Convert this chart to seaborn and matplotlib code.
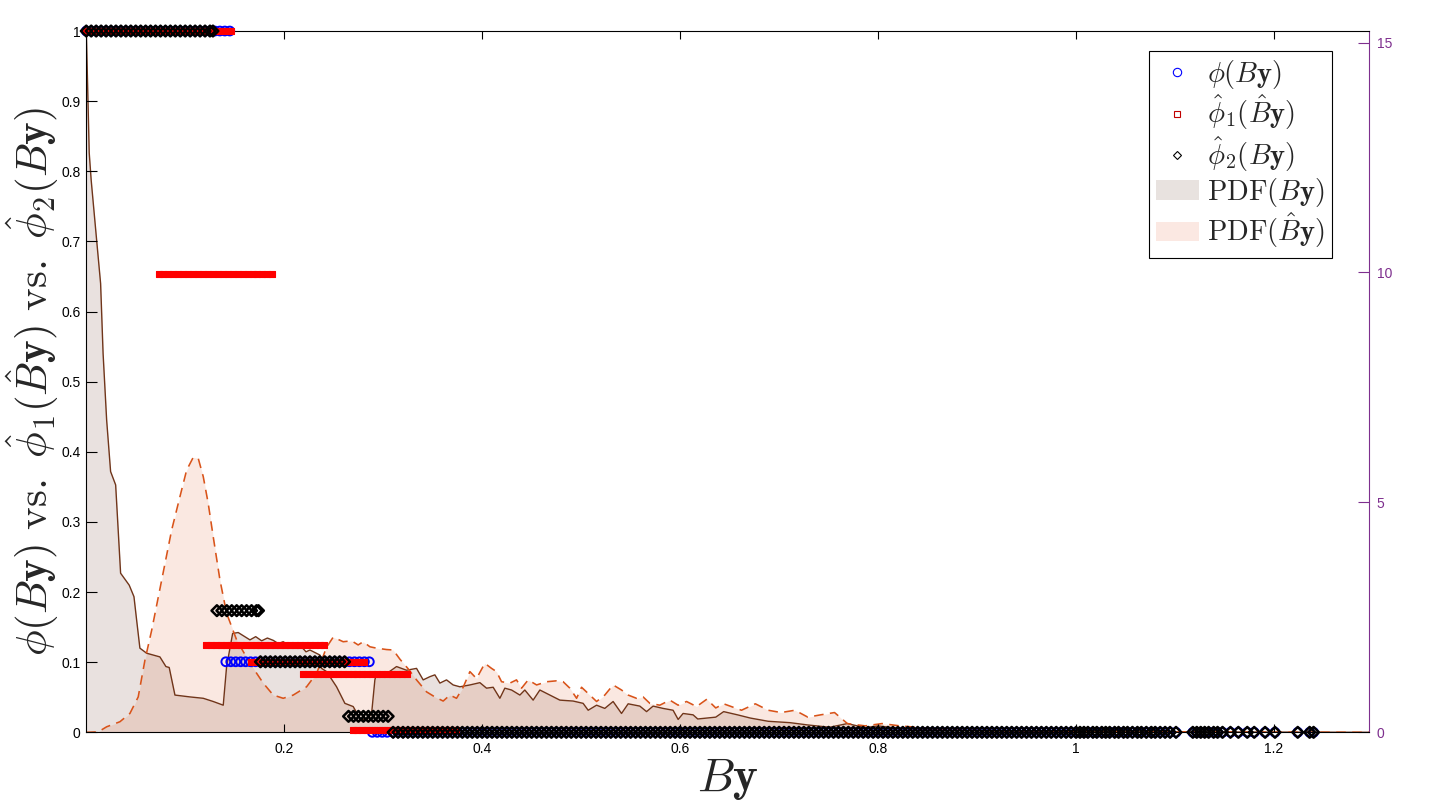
import numpy as np
import pandas as pd
import matplotlib
matplotlib.use("Agg")
import matplotlib.pyplot as plt
import seaborn as sns
from matplotlib.lines import Line2D
from matplotlib.patches import Patch

# PDF curves (right axis), (By, density) pairs
pdf_by_pts = [
    (0.000, 15.3), (0.001, 14.4), (0.003, 12.6), (0.005, 12.0), (0.0105, 10.7),
    (0.0145, 9.76), (0.017, 8.24), (0.0206, 6.79), (0.0246, 5.67), (0.0297, 5.38),
    (0.0347, 3.46), (0.0434, 3.20), (0.0482, 2.95), (0.0509, 2.44), (0.0542, 1.83),
    (0.061, 1.72), (0.0744, 1.64), (0.0805, 1.43), (0.0838, 1.41), (0.0896, 0.81),
    (0.1047, 0.77), (0.1182, 0.74), (0.1283, 0.67), (0.1384, 0.59), (0.1418, 1.43),
    (0.1479, 2.15), (0.1535, 2.17), (0.1654, 2.01), (0.1712, 2.08), (0.1772, 1.99),
    (0.183, 2.05), (0.1889, 2.00), (0.194, 1.93), (0.199, 1.97), (0.204, 1.90),
    (0.2091, 1.92), (0.2176, 1.86), (0.222, 1.75), (0.226, 1.79), (0.2361, 1.68),
    (0.2378, 1.39), (0.2428, 1.32), (0.2529, 0.99), (0.2613, 0.63), (0.2697, 0.56),
    (0.2765, 0.30), (0.2832, 0.27), (0.2883, 0.41), (0.2916, 1.14), (0.2933, 1.28),
    (0.305, 1.30), (0.3135, 1.43), (0.3236, 1.35), (0.3337, 1.39), (0.3404, 1.14),
    (0.3472, 1.21), (0.3522, 1.25), (0.3573, 1.07), (0.364, 1.14), (0.3707, 1.03),
    (0.3775, 0.99), (0.3876, 1.03), (0.3977, 1.08), (0.4044, 0.96), (0.4111, 0.98),
    (0.4179, 0.74), (0.4229, 0.96), (0.4297, 0.92), (0.4381, 0.81), (0.4431, 0.92),
    (0.4515, 0.70), (0.4583, 0.92), (0.4684, 0.81), (0.4785, 0.70), (0.4919, 0.68),
    (0.502, 0.63), (0.5071, 0.48), (0.5156, 0.59), (0.5239, 0.52), (0.5323, 0.67),
    (0.5408, 0.41), (0.5475, 0.62), (0.5593, 0.57), (0.5661, 0.45), (0.5727, 0.57),
    (0.5828, 0.52), (0.5929, 0.48), (0.598, 0.28), (0.603, 0.41), (0.6131, 0.38),
    (0.6178, 0.29), (0.636, 0.33), (0.644, 0.45), (0.658, 0.38), (0.671, 0.31),
    (0.689, 0.24), (0.711, 0.21), (0.729, 0.16), (0.751, 0.11), (0.769, 0.19),
    (0.787, 0.10), (0.800, 0.14), (0.822, 0.08), (0.867, 0.05), (0.911, 0.03),
    (0.960, 0.02), (1.000, 0.02), (1.100, 0.01), (1.200, 0.005), (1.296, 0.0),
]

pdf_bhat_pts = [
    (0.000, 0.0), (0.0121, 0.01), (0.0206, 0.12), (0.034, 0.23), (0.0441, 0.41),
    (0.0525, 0.77), (0.0593, 1.57), (0.0661, 2.22), (0.0762, 3.31), (0.0863, 4.40),
    (0.0946, 5.12), (0.1014, 5.70), (0.1081, 5.98), (0.1131, 5.96), (0.1182, 5.56),
    (0.1232, 4.98), (0.1283, 4.25), (0.1351, 3.31), (0.1418, 2.59), (0.1519, 2.01),
    (0.1654, 1.50), (0.1788, 1.07), (0.1889, 0.81), (0.199, 0.74), (0.2091, 0.81),
    (0.2226, 0.99), (0.2327, 1.28), (0.2428, 1.85), (0.2495, 2.07), (0.2596, 1.97),
    (0.2681, 1.99), (0.2747, 1.90), (0.2798, 1.97), (0.2866, 1.86), (0.2933, 1.83),
    (0.3034, 1.80), (0.3101, 1.79), (0.3169, 1.59), (0.3253, 1.38), (0.3337, 1.14),
    (0.3438, 0.88), (0.3522, 0.77), (0.3606, 0.68), (0.3674, 0.81), (0.3741, 0.74),
    (0.3808, 0.98), (0.3876, 1.32), (0.3943, 1.17), (0.4027, 1.50), (0.4095, 1.39),
    (0.4145, 1.32), (0.4196, 1.10), (0.428, 1.07), (0.4347, 1.14), (0.4398, 0.96),
    (0.4465, 1.14), (0.455, 1.03), (0.4651, 1.10), (0.4752, 1.12), (0.4818, 1.10),
    (0.4886, 0.96), (0.4954, 0.74), (0.5004, 0.98), (0.5088, 0.81), (0.5156, 0.67),
    (0.5239, 0.81), (0.5323, 1.03), (0.5408, 0.92), (0.5475, 0.81), (0.5559, 0.74),
    (0.5626, 0.77), (0.5694, 0.63), (0.5795, 0.59), (0.5896, 0.70), (0.598, 0.59),
    (0.6065, 0.67), (0.6166, 0.56), (0.627, 0.72), (0.636, 0.53), (0.644, 0.62),
    (0.662, 0.48), (0.676, 0.62), (0.689, 0.48), (0.702, 0.43), (0.716, 0.48),
    (0.729, 0.33), (0.742, 0.38), (0.756, 0.43), (0.769, 0.19), (0.787, 0.14),
    (0.804, 0.19), (0.822, 0.14), (0.844, 0.10), (0.867, 0.07), (0.911, 0.04),
    (0.956, 0.03), (1.000, 0.02), (1.100, 0.01), (1.296, 0.0),
]

# By samples shared by phi and phi2 at level 0
by_low = [
    0.310, 0.315, 0.320, 0.325, 0.330, 0.335, 0.340, 0.345, 0.350, 0.355,
    0.360, 0.365, 0.370, 0.375, 0.380, 0.385, 0.390, 0.395, 0.400, 0.405,
    0.410, 0.415, 0.420, 0.425, 0.430, 0.435, 0.440, 0.445, 0.450, 0.455,
    0.460, 0.465, 0.470, 0.475, 0.480, 0.485, 0.490, 0.495, 0.500, 0.505,
    0.510, 0.515, 0.520, 0.525, 0.530, 0.535, 0.540, 0.545, 0.550, 0.555,
    0.560, 0.565, 0.570, 0.575, 0.580, 0.585, 0.590, 0.595, 0.600, 0.605,
    0.610, 0.615, 0.620, 0.625, 0.630, 0.635, 0.640, 0.645, 0.650, 0.655,
    0.660, 0.665, 0.670, 0.675, 0.680, 0.685, 0.690, 0.695, 0.700, 0.705,
    0.710, 0.715, 0.720, 0.725, 0.730, 0.735, 0.740, 0.745, 0.750, 0.755,
    0.760, 0.765, 0.770, 0.775, 0.780, 0.785, 0.790, 0.795, 0.800, 0.805,
    0.810, 0.815, 0.820, 0.825, 0.830, 0.835, 0.840, 0.845, 0.850, 0.855,
    0.860, 0.865, 0.870, 0.875, 0.880, 0.885, 0.890, 0.895, 0.900, 0.905,
    0.910, 0.915, 0.920, 0.925, 0.930, 0.935, 0.940, 0.945, 0.950, 0.955,
    0.960, 0.965, 0.970, 0.975, 0.980, 0.985, 0.990, 0.995, 1.000,
]
by_tail = [
    1.004, 1.008, 1.012, 1.017, 1.021, 1.026, 1.030, 1.034, 1.039, 1.043,
    1.048, 1.052, 1.057, 1.062, 1.066, 1.071, 1.076, 1.080, 1.085, 1.090,
    1.095, 1.101, 1.118, 1.122, 1.126, 1.130, 1.134, 1.139, 1.143, 1.148,
    1.156, 1.164, 1.173, 1.180, 1.191, 1.201, 1.224, 1.236, 1.240,
]

# phi(By): blue circles
phi_top_x = [0.000, 0.005, 0.010, 0.015, 0.020, 0.025, 0.030, 0.035, 0.040, 0.045,
             0.050, 0.055, 0.060, 0.065, 0.070, 0.075, 0.080, 0.085, 0.090, 0.095,
             0.100, 0.105, 0.110, 0.115, 0.120, 0.125, 0.130, 0.135, 0.140, 0.145]
phi_mid_x = [0.141, 0.146, 0.151, 0.156, 0.161, 0.166, 0.171, 0.176, 0.181, 0.186,
             0.191, 0.196, 0.201, 0.206, 0.211, 0.216, 0.221, 0.226, 0.231, 0.236,
             0.241, 0.246, 0.251, 0.256, 0.261, 0.266, 0.271, 0.276, 0.281, 0.286]
phi_low_x = [0.289, 0.294, 0.299, 0.304]
phi_levels = [1.0, 0.1006, 0.0]

# phi1_hat(B_hat y): red squares
bhat_top_x = [0.000, 0.005, 0.010, 0.015, 0.020, 0.025, 0.030, 0.035, 0.040, 0.045,
              0.050, 0.055, 0.060, 0.065, 0.070, 0.075, 0.080, 0.085, 0.090, 0.095,
              0.100, 0.105, 0.110, 0.115, 0.120, 0.125, 0.130, 0.135, 0.140, 0.146]
bhat_b2_x = [0.073, 0.078, 0.083, 0.088, 0.093, 0.098, 0.103, 0.108, 0.113, 0.118,
             0.123, 0.128, 0.133, 0.138, 0.143, 0.148, 0.153, 0.158, 0.163, 0.168,
             0.173, 0.178, 0.183, 0.188]
bhat_b3_x = [0.121, 0.126, 0.131, 0.136, 0.141, 0.146, 0.151, 0.156, 0.161, 0.166,
             0.171, 0.176, 0.181, 0.186, 0.191, 0.196, 0.201, 0.206, 0.211, 0.216,
             0.221, 0.226, 0.231, 0.236, 0.240]
bhat_b4_x = [0.166, 0.171, 0.176, 0.181, 0.186, 0.191, 0.196, 0.201, 0.206, 0.211,
             0.216, 0.221, 0.226, 0.231, 0.236, 0.241, 0.246, 0.251, 0.256, 0.261,
             0.266, 0.271, 0.276, 0.281]
bhat_b5_x = [0.219, 0.224, 0.229, 0.234, 0.239, 0.244, 0.249, 0.254, 0.259, 0.264,
             0.269, 0.274, 0.279, 0.284, 0.289, 0.294, 0.299, 0.304, 0.309, 0.314,
             0.319, 0.324]
bhat_b6_x = [0.269, 0.274, 0.279, 0.284, 0.289, 0.294, 0.299, 0.304, 0.309, 0.314,
             0.319, 0.324, 0.329, 0.334, 0.339, 0.344, 0.349, 0.354, 0.359, 0.364,
             0.369, 0.374]
phi1_levels = [1.0, 0.653, 0.1248, 0.1006, 0.0835, 0.0035]

# phi2_hat(By): black diamonds
phi2_top_x = [0.000, 0.005, 0.010, 0.015, 0.020, 0.025, 0.030, 0.035, 0.040, 0.045,
              0.050, 0.055, 0.060, 0.065, 0.070, 0.075, 0.080, 0.085, 0.090, 0.095,
              0.100, 0.105, 0.110, 0.115, 0.120, 0.125, 0.128]
phi2_b2_x = [0.132, 0.137, 0.142, 0.147, 0.152, 0.157, 0.162, 0.167, 0.172, 0.174]
phi2_b3_x = [0.176, 0.181, 0.186, 0.191, 0.196, 0.201, 0.206, 0.211, 0.216, 0.221,
             0.226, 0.231, 0.236, 0.241, 0.246, 0.251, 0.256, 0.261]
phi2_b4_x = [0.265, 0.270, 0.275, 0.280, 0.285, 0.290, 0.295, 0.300, 0.305]
phi2_levels = [1.0, 0.1735, 0.1006, 0.0228, 0.0]

left_ticks = [0, 0.1, 0.2, 0.3, 0.4, 0.5, 0.6, 0.7, 0.8, 0.9, 1]
left_labels = ["0", "0.1", "0.2", "0.3", "0.4", "0.5", "0.6", "0.7", "0.8", "0.9", "1"]
x_ticks = [0.2, 0.4, 0.6, 0.8, 1.0, 1.2]
x_labels = ["0.2", "0.4", "0.6", "0.8", "1", "1.2"]
right_ticks = [0, 5, 10, 15]
right_labels = ["0", "5", "10", "15"]

PURPLE = "#7E2F8E"
BROWN = "#70351A"
ORANGE = "#D95319"


def band_frame(x_lists, levels):
    xs = np.concatenate([np.asarray(x, dtype=float) for x in x_lists])
    ys = np.concatenate([np.full(len(x), lv) for x, lv in zip(x_lists, levels)])
    return pd.DataFrame({"x": xs, "y": ys})


phi_df = band_frame([phi_top_x, phi_mid_x, phi_low_x + by_low + by_tail], phi_levels)
phi1_df = band_frame([bhat_top_x, bhat_b2_x, bhat_b3_x, bhat_b4_x, bhat_b5_x, bhat_b6_x],
                     phi1_levels)
phi2_df = band_frame([phi2_top_x, phi2_b2_x, phi2_b3_x, phi2_b4_x, by_low + by_tail],
                     phi2_levels)
pdf_by = pd.DataFrame(pdf_by_pts, columns=["x", "v"])
pdf_bhat = pd.DataFrame(pdf_bhat_pts, columns=["x", "v"])

sns.set_theme(style="white")
plt.rcParams["font.family"] = ["Liberation Sans", "DejaVu Sans"]
plt.rcParams["mathtext.fontset"] = "cm"

fig = plt.figure(figsize=(14.4, 8.1), dpi=100)
ax = fig.add_axes([0.0599, 0.0959, 0.8908, 0.8658])
ax2 = ax.twinx()
ax.set_zorder(ax2.get_zorder() + 1)
ax.patch.set_visible(False)

# densities on the right axis
ax2.fill_between(pdf_by["x"], pdf_by["v"], color="#6E3B2A", alpha=0.15, linewidth=0)
ax2.fill_between(pdf_bhat["x"], pdf_bhat["v"], color=ORANGE, alpha=0.13, linewidth=0)
sns.lineplot(data=pdf_by, x="x", y="v", ax=ax2, color=BROWN, linewidth=1.0,
             sort=False, estimator=None)
sns.lineplot(data=pdf_bhat, x="x", y="v", ax=ax2, color=ORANGE, linewidth=1.15,
             sort=False, estimator=None, linestyle=(0, (6, 4)))
ax2.set_ylim(0, 15.25)
ax2.set_yticks(right_ticks)
ax2.set_yticklabels(right_labels)
ax2.set_ylabel("")
ax2.tick_params(axis="y", direction="in", length=8, width=0.8, pad=5.5,
                colors=PURPLE, labelsize=10, right=True)
for side in ["left", "top", "bottom"]:
    ax2.spines[side].set_visible(False)
ax2.spines["right"].set_color(PURPLE)
ax2.spines["right"].set_linewidth(0.8)

# step values on the left axis (markers drawn past the axis edge, as in the original)
sns.scatterplot(data=phi_df, x="x", y="y", ax=ax, marker="o", s=40,
                facecolor="none", edgecolor="#0000FF", linewidth=1.4,
                legend=False, zorder=3, clip_on=False)
sns.scatterplot(data=phi1_df, x="x", y="y", ax=ax, marker="s", s=24,
                facecolor="#FF0000", edgecolor="#FF0000", linewidth=0.8,
                legend=False, zorder=3, clip_on=False)
sns.scatterplot(data=phi2_df, x="x", y="y", ax=ax, marker="D", s=30,
                facecolor="none", edgecolor="black", linewidth=1.8,
                legend=False, zorder=3, clip_on=False)

ax.set_xlim(0, 1.296)
ax.set_ylim(0, 1)
ax.set_xticks(x_ticks)
ax.set_xticklabels(x_labels)
ax.set_yticks(left_ticks)
ax.set_yticklabels(left_labels)
ax.tick_params(axis="x", direction="in", length=6, width=0.8, pad=7,
               labelsize=10, colors="black", bottom=True, top=True)
ax.tick_params(axis="y", direction="in", length=8, width=0.8, pad=4,
               labelsize=10, colors="black", left=True, right=False)
for side in ["left", "top", "bottom"]:
    ax.spines[side].set_color("black")
    ax.spines[side].set_linewidth(0.8)
ax.spines["right"].set_visible(False)

ax.set_xlabel(r"$B\mathbf{y}$", fontsize=34, labelpad=0)
ax.set_ylabel(r"$\phi(B\mathbf{y})\ \mathrm{vs.}\ \hat{\phi}_1(\hat{B}\mathbf{y})"
              r"\ \mathrm{vs.}\ \hat{\phi}_2(B\mathbf{y})$", fontsize=31, labelpad=0)

handles = [
    Line2D([], [], linestyle="none", marker="o", markersize=6, markerfacecolor="none",
           markeredgecolor="#0000FF", markeredgewidth=0.8),
    Line2D([], [], linestyle="none", marker="s", markersize=5, markerfacecolor="none",
           markeredgecolor="#C00000", markeredgewidth=0.8),
    Line2D([], [], linestyle="none", marker="D", markersize=4.5, markerfacecolor="none",
           markeredgecolor="black", markeredgewidth=0.8),
    Patch(facecolor="#E8E2DF", edgecolor="none"),
    Patch(facecolor="#FBE8E2", edgecolor="none"),
]
labels = [
    r"$\phi(B\mathbf{y})$",
    r"$\hat{\phi}_1(\hat{B}\mathbf{y})$",
    r"$\hat{\phi}_2(B\mathbf{y})$",
    r"$\mathrm{PDF}(B\mathbf{y})$",
    r"$\mathrm{PDF}(\hat{B}\mathbf{y})$",
]
leg = ax.legend(handles, labels, loc="upper right", bbox_to_anchor=(0.971, 0.9715),
                borderaxespad=0, fontsize=20.5, frameon=True, fancybox=False,
                framealpha=1, edgecolor="black", borderpad=0.25, labelspacing=0.08,
                handlelength=1.5, handletextpad=0.3)
leg.get_frame().set_linewidth(0.8)

fig.savefig("out.png", dpi=100)
plt.close(fig)
